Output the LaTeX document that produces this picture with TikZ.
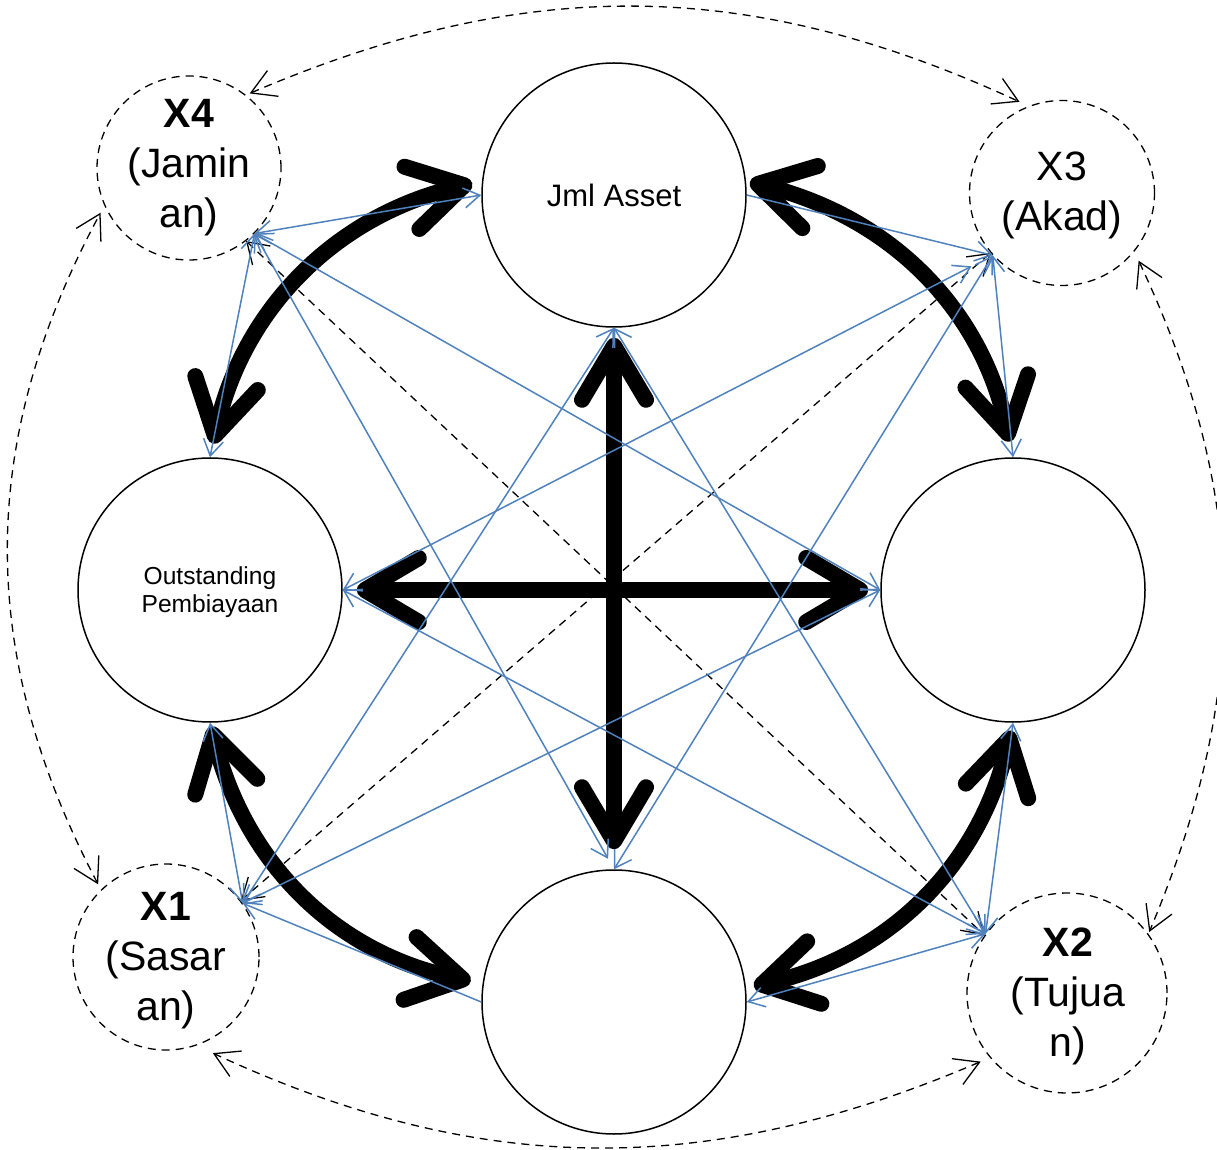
\documentclass[tikz,border=0pt]{standalone}
\usepackage{fontspec}
\setmainfont{Liberation Sans}
\usetikzlibrary{arrows.meta}
\definecolor{linkblue}{HTML}{4F81BD}

\begin{document}
\begin{tikzpicture}[x=0.5pt,y=-0.5pt,
  bigc/.style={circle, draw, line width=0.75pt, minimum size=132pt, inner sep=0pt},
  smallc/.style={circle, draw, dash pattern=on 4pt off 3pt, line width=0.65pt, inner sep=0pt},
  xtext/.style={align=center, font=\fontsize{20.5pt}{25pt}\selectfont, inner sep=0pt},
  heavy/.style={line width=8pt, {Straight Barb[length=27pt,width=32pt,round]}-{Straight Barb[length=27pt,width=32pt,round]}},
  link/.style={draw=linkblue, line width=0.75pt, {Straight Barb[length=8pt,width=10pt]}-{Straight Barb[length=8pt,width=10pt]}},
  linkend/.style={draw=linkblue, line width=0.75pt, -{Straight Barb[length=8pt,width=10pt]}},
  diag/.style={dash pattern=on 4pt off 3pt, line width=0.65pt, {Straight Barb[length=10pt,width=13pt]}-{Straight Barb[length=10pt,width=13pt]}},
  corr/.style={dash pattern=on 4pt off 3pt, line width=0.65pt, {Straight Barb[length=12pt,width=14pt]}-{Straight Barb[length=12pt,width=14pt]}}
]
\useasboundingbox (0,0) rectangle (1217,1150);

% main variables
\node[bigc] (jml) at (614,195) {};
\node[bigc] (out) at (210,590) {};
\node[bigc] (rgt) at (1013,590) {};
\node[bigc] (bot) at (614,1002) {};
\node[font=\fontsize{15.5pt}{18pt}\selectfont] (jmlt) at (614,195) {Jml Asset};
\node[align=center, font=\fontsize{12.3pt}{14pt}\selectfont] (outt) at (210,592) {Outstanding\\Pembiayaan};

% factor circles
\node[smallc, minimum size=92pt] (x4) at (189,168) {};
\node[smallc, minimum size=92.5pt] (x3) at (1062,193) {};
\node[smallc, minimum size=93pt] (x1) at (166,957) {};
\node[smallc, minimum size=100pt] (x2) at (1067,993) {};
\node[xtext] (x4t) at (189,168) {\textbf{X4}\\(Jamin\\an)};
\node[xtext] (x3t) at (1062,195) {X3\\(Akad)};
\node[xtext] (x1t) at (166,961) {\textbf{X1}\\(Sasar\\an)};
\node[xtext] (x2t) at (1068,996) {\textbf{X2}\\(Tujua\\n)};

% heavy two-way arrows between the main variables
\draw[heavy, shorten <=5pt, shorten >=7pt] (jml.174) to[bend right=32] (out.90);
\draw[heavy, shorten <=2pt, shorten >=8pt] (jml.6) to[bend left=32] (rgt.90);
\draw[heavy, shorten <=4pt, shorten >=4pt] (rgt.-90) to[bend left=32] (bot.6);
\draw[heavy, shorten <=2pt, shorten >=6pt] (out.-90) to[bend right=32] (bot.172);
\draw[heavy, shorten <=5pt, shorten >=10pt] (jml.south) -- (bot.north);
\draw[heavy, shorten <=7pt, shorten >=6pt] (out.east) -- (rgt.west);

% dashed diagonals between factors
\draw[diag] (x4.-52) -- (x2.145);
\draw[diag] (x3.220) -- (x1.37);

% outer dashed correlations
\draw[corr, shorten <=2pt, shorten >=5pt] (x4.52) to[bend left=24] (x3.111);
\draw[corr, shorten <=5pt, shorten >=1pt] (x3.-39) to[bend left=24] (x2.36);
\draw[corr, shorten <=5pt, shorten >=9pt] (x2.220) to[bend left=24] (x1.-71);
\draw[corr, shorten <=3pt, shorten >=4pt] (x1.134) to[bend left=28] (x4.204);

% factor links
\draw[link] (x4.-45) -- (jml.west);
\draw[link] (x4.-45) -- (out.north);
\draw[link] (x4.-45) -- (rgt.west);
\draw[link, shorten >=6pt] (x4.-45) -- (bot.north);

\draw[linkend] (jml.east) -- (x3.222);
\draw[link] (x3.222) -- (rgt.north);
\draw[link, shorten <=12pt] (x3.222) -- (out.east);
\draw[link] (x3.222) -- (bot.north);

\draw[link] (x1.35) -- (out.south);
\draw[linkend] (bot.west) -- (x1.35);
\draw[link] (x1.35) -- (jml.south);
\draw[link] (x1.35) -- (rgt.west);

\draw[link] (x2.144) -- (rgt.south);
\draw[link] (x2.144) -- (bot.east);
\draw[link] (x2.144) -- (jml.south);
\draw[link] (x2.144) -- (out.east);
\end{tikzpicture}
\end{document}
